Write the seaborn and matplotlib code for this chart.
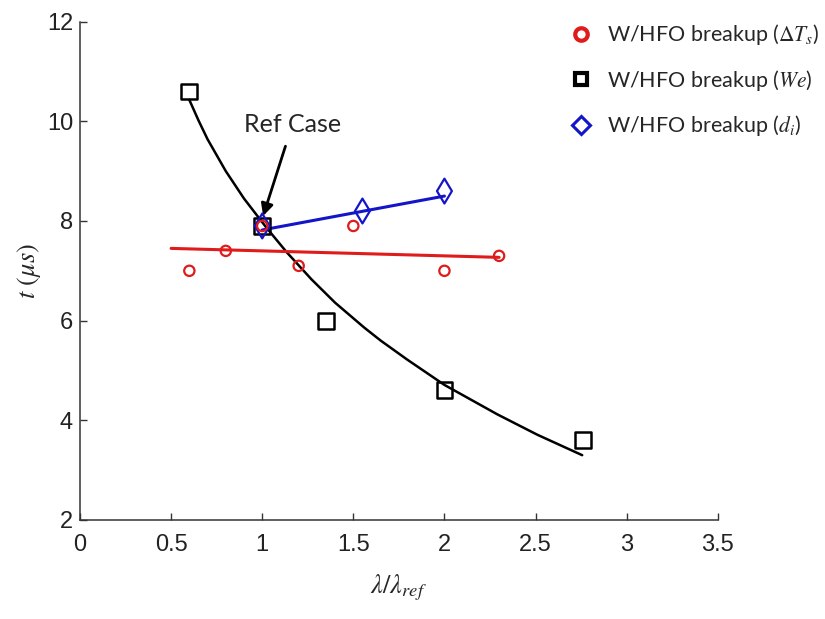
import matplotlib
matplotlib.use("Agg")
import matplotlib.pyplot as plt
import seaborn as sns
from matplotlib.lines import Line2D

# 数据
red_x = [0.6, 0.8, 1.0, 1.2, 1.5, 2.0, 2.3]
red_y = [7.0, 7.4, 7.9, 7.1, 7.9, 7.0, 7.3]
red_fit_x = [0.5, 2.3]
red_fit_y = [7.45, 7.27]

black_x = [0.6, 1.0, 1.35, 2.0, 2.76]
black_y = [10.6, 7.9, 6.0, 4.6, 3.6]
black_fit_x = [0.60, 0.65, 0.70, 0.80, 0.90, 1.02, 1.135, 1.27, 1.40, 1.56, 1.65, 1.795, 2.00, 2.29, 2.51, 2.756]
black_fit_y = [10.43, 10.02, 9.64, 9.00, 8.45, 7.88, 7.37, 6.83, 6.36, 5.86, 5.60, 5.22, 4.71, 4.12, 3.71, 3.30]

blue_x = [1.0, 1.55, 2.0]
blue_y = [7.9, 8.2, 8.6]
blue_fit_x = [1.0, 2.0]
blue_fit_y = [7.82, 8.5]

labels = [r"W/HFO breakup ($\Delta T_s$)", r"W/HFO breakup ($We$)", r"W/HFO breakup ($d_i$)"]
red, blue, black = "#e01b1b", "#1414c8", "black"

sns.set_style("ticks")
plt.rcParams['font.family'] = ['Lato', 'DejaVu Sans']
plt.rcParams['mathtext.fontset'] = 'stix'

fig = plt.figure(figsize=(8.25, 6.19), dpi=100)
ax = fig.add_axes([0.097, 0.160, 0.773, 0.805])

# 拟合线
sns.lineplot(x=black_fit_x, y=black_fit_y, color=black, lw=1.8, sort=False, estimator=None, ax=ax)
sns.lineplot(x=red_fit_x, y=red_fit_y, color=red, lw=2.2, sort=False, estimator=None, ax=ax)
sns.lineplot(x=blue_fit_x, y=blue_fit_y, color=blue, lw=2.2, sort=False, estimator=None, ax=ax)

# 数据点
sns.scatterplot(x=black_x, y=black_y, marker='s', s=130, facecolor='none', edgecolor=black, linewidth=1.8, ax=ax, zorder=3)
sns.scatterplot(x=blue_x, y=blue_y, marker='d', s=160, facecolor='none', edgecolor=blue, linewidth=1.6, ax=ax, zorder=4)
sns.scatterplot(x=red_x, y=red_y, marker='o', s=55, facecolor='none', edgecolor=red, linewidth=1.6, ax=ax, zorder=5)

ax.annotate("Ref Case", xy=(1.005, 8.1), xytext=(1.165, 9.93), ha='center', va='center', fontsize=18,
            arrowprops=dict(arrowstyle='-|>', color='black', lw=2, mutation_scale=18, shrinkA=5, shrinkB=0))

ax.set_xlim(0, 3.5)
ax.set_ylim(2, 12)
ax.set_xticks([0, 0.5, 1, 1.5, 2, 2.5, 3, 3.5])
ax.set_xticklabels(["0", "0.5", "1", "1.5", "2", "2.5", "3", "3.5"])
ax.set_yticks([2, 4, 6, 8, 10, 12])
ax.tick_params(direction='in', length=5, width=1, colors='#333333', labelsize=17,
               labelfontfamily='Liberation Sans', labelcolor='#222222')
ax.tick_params(axis='x', pad=10)
ax.tick_params(axis='y', pad=5)
for s in ['left', 'bottom']:
    ax.spines[s].set_color('#333333')
    ax.spines[s].set_linewidth(1.1)
sns.despine(ax=ax)

ax.set_xlabel(r"$\lambda/\lambda_{ref}$", fontsize=19, labelpad=12)
ax.set_ylabel(r"$t\ (\mu s)$", fontsize=19, labelpad=3)

handles = [
    Line2D([], [], ls='none', marker='o', ms=9, mew=3, mfc='none', mec=red),
    Line2D([], [], ls='none', marker='s', ms=8, mew=3, mfc='none', mec=black),
    Line2D([], [], ls='none', marker='D', ms=9, mew=2.2, mfc='none', mec=blue),
]
fig.legend(handles, labels, loc='upper left', bbox_to_anchor=(0.665, 0.995), frameon=False,
           fontsize=15.5, labelspacing=0.95, handletextpad=0.6, handlelength=1.2)

fig.savefig("out.png", dpi=100)
